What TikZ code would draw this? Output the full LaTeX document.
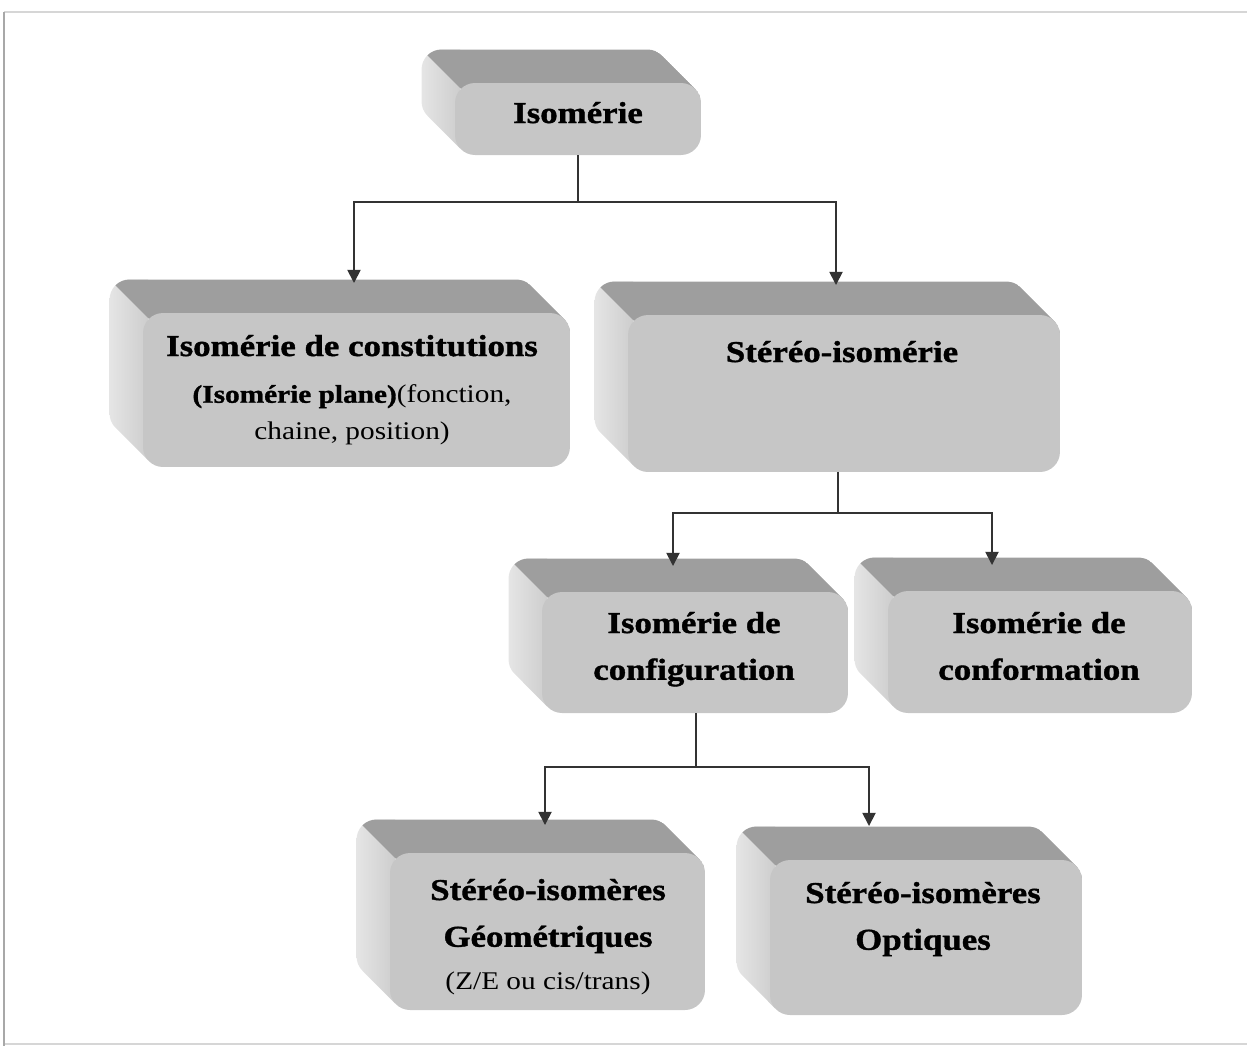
\documentclass[tikz,border=0pt]{standalone}
\usepackage{fontspec}
\setmainfont{Liberation Serif}[FakeStretch=1.15, BoldFeatures={FakeBold=1.2}]
\usetikzlibrary{arrows.meta,calc}
\pgfdeclarelayer{background}
\pgfsetlayers{background,main}
\definecolor{frontcol}{HTML}{C6C6C6}
\definecolor{topcol}{HTML}{9E9E9E}
\definecolor{sidel}{HTML}{E6E6E6}
\definecolor{sider}{HTML}{CDCDCD}
\definecolor{linecol}{HTML}{333333}
\definecolor{framecol}{HTML}{D6D6D6}
\definecolor{frameleft}{HTML}{A8A8A8}
\newcommand\bigtxt{\fontsize{17.25}{26.6}\selectfont\bfseries}
\newcommand\smalltxt{\fontsize{14.5}{21}\selectfont}
\newcommand\stack[1]{\vtop{\baselineskip=26.6pt\halign{\hfil##\hfil\cr#1\crcr}}}
\tikzset{
  face/.style={rectangle, fill=frontcol, rounded corners=0.4cm, inner sep=0pt, outer sep=0pt},
  txt/.style={anchor=base, inner sep=0pt, text=black},
  arr/.style={draw=linecol, line width=1pt, -{Triangle[length=7.5pt,width=7.5pt]}},
  conn/.style={draw=linecol, line width=1pt},
}
\begin{document}
\begin{tikzpicture}[x=0.02cm,y=-0.02cm]
\useasboundingbox (0,0) rectangle (1247,1046);
% frame
\draw[framecol, line width=1.5pt] (1247,12) -- (4,12);
\draw[framecol, line width=1.5pt] (4,1044) -- (1247,1044);
\draw[frameleft, line width=1.2pt] (4,12) -- (4,1046);

% front faces
\node[face, minimum width=4.92cm, minimum height=1.44cm] (b1) at (578,119) {};
\node[face, minimum width=8.54cm, minimum height=3.08cm] (b2) at (356.5,390) {};
\node[face, minimum width=8.64cm, minimum height=3.14cm] (b3) at (844,393.5) {};
\node[face, minimum width=6.12cm, minimum height=2.42cm] (b5) at (695,652.5) {};
\node[face, minimum width=6.08cm, minimum height=2.44cm] (b6) at (1040,652) {};
\node[face, minimum width=6.30cm, minimum height=3.14cm] (b4) at (547.5,931.5) {};
\node[face, minimum width=6.24cm, minimum height=3.10cm] (b7) at (926,937.5) {};

% 3D extrusion behind faces
\begin{pgfonlayer}{background}
\foreach \n in {b1,b2,b3,b4,b5,b6,b7}{
  \begin{scope}
    \clip ($(\n.north west)+(-0.67cm,0.27cm)$) arc[start angle=180, end angle=90, radius=0.4cm]
      -- ($(\n.north east)+(-1.07cm,0.67cm)$) arc[start angle=90, end angle=45, radius=0.4cm]
      -- ($(\n.north east)+(-0.1172cm,-0.1172cm)$) arc[start angle=45, end angle=0, radius=0.4cm]
      -- ($(\n.south east)+(0cm,0.4cm)$) arc[start angle=0, end angle=-90, radius=0.4cm]
      -- ($(\n.south west)+(0.4cm,0cm)$) arc[start angle=270, end angle=225, radius=0.4cm]
      -- ($(\n.south west)+(-0.5528cm,0.7872cm)$) arc[start angle=225, end angle=180, radius=0.4cm]
      -- cycle;
    \shade[left color=sidel, right color=sider] ($(\n.north west)+(-0.7cm,0.7cm)$) rectangle ($(\n.south west)+(0.1cm,-0.1cm)$);
    \fill[topcol] ($(\n.north west)+(-0.5528cm,0.5528cm)$) arc[start angle=135, end angle=90, radius=0.4cm]
      -- ($(\n.north east)+(-1.07cm,0.67cm)$) arc[start angle=90, end angle=45, radius=0.4cm]
      -- ($(\n.north east)+(-0.1172cm,-0.1172cm)$) arc[start angle=45, end angle=0, radius=0.4cm]
      -- ($(\n.north west)+(0.4cm,-0.4cm)$)
      -- ($(\n.north west)+(0.1172cm,-0.1172cm)$) -- cycle;
  \end{scope}
}
\end{pgfonlayer}

% texts
\node[txt] (t1) at (578,123) {\bigtxt Isomérie};
\node[txt] (t2) at (352,356) {\stack{\bigtxt Isomérie de constitutions\cr
  \smalltxt\textbf{(Isomérie plane)}(fonction,\cr
  \noalign{\vskip-5.6pt}
  \smalltxt chaine, position)}};
\node[txt] (t3) at (842,362) {\bigtxt Stéréo-isomérie};
\node[txt] (t5) at (694,633) {\stack{\bigtxt Isomérie de\cr \bigtxt configuration}};
\node[txt] (t6) at (1039,633) {\stack{\bigtxt Isomérie de\cr \bigtxt conformation}};
\node[txt] (t4) at (548,900) {\stack{\bigtxt Stéréo-isomères\cr \bigtxt Géométriques\cr
  \noalign{\vskip-2.2pt}
  \smalltxt (Z/E ou cis/trans)}};
\node[txt] (t7) at (923,903) {\stack{\bigtxt Stéréo-isomères\cr \bigtxt Optiques}};

% connectors
\coordinate (j1) at (578,202);
\coordinate (a2) at (354,283);
\coordinate (a3) at (836,285);
\draw[conn] (b1.south) -- (j1);
\draw[arr] (j1) -| (a2);
\draw[arr] (j1) -| (a3);

\coordinate (j2) at (838,513);
\coordinate (a5) at (673,566);
\coordinate (a6) at (992,565);
\draw[conn] (j2 |- b3.south) -- (j2);
\draw[arr] (j2) -| (a5);
\draw[arr] (j2) -| (a6);

\coordinate (j3) at (696,767);
\coordinate (a4) at (545,825);
\coordinate (a7) at (869,826);
\draw[conn] (j3 |- b5.south) -- (j3);
\draw[arr] (j3) -| (a4);
\draw[arr] (j3) -| (a7);
\end{tikzpicture}
\end{document}
